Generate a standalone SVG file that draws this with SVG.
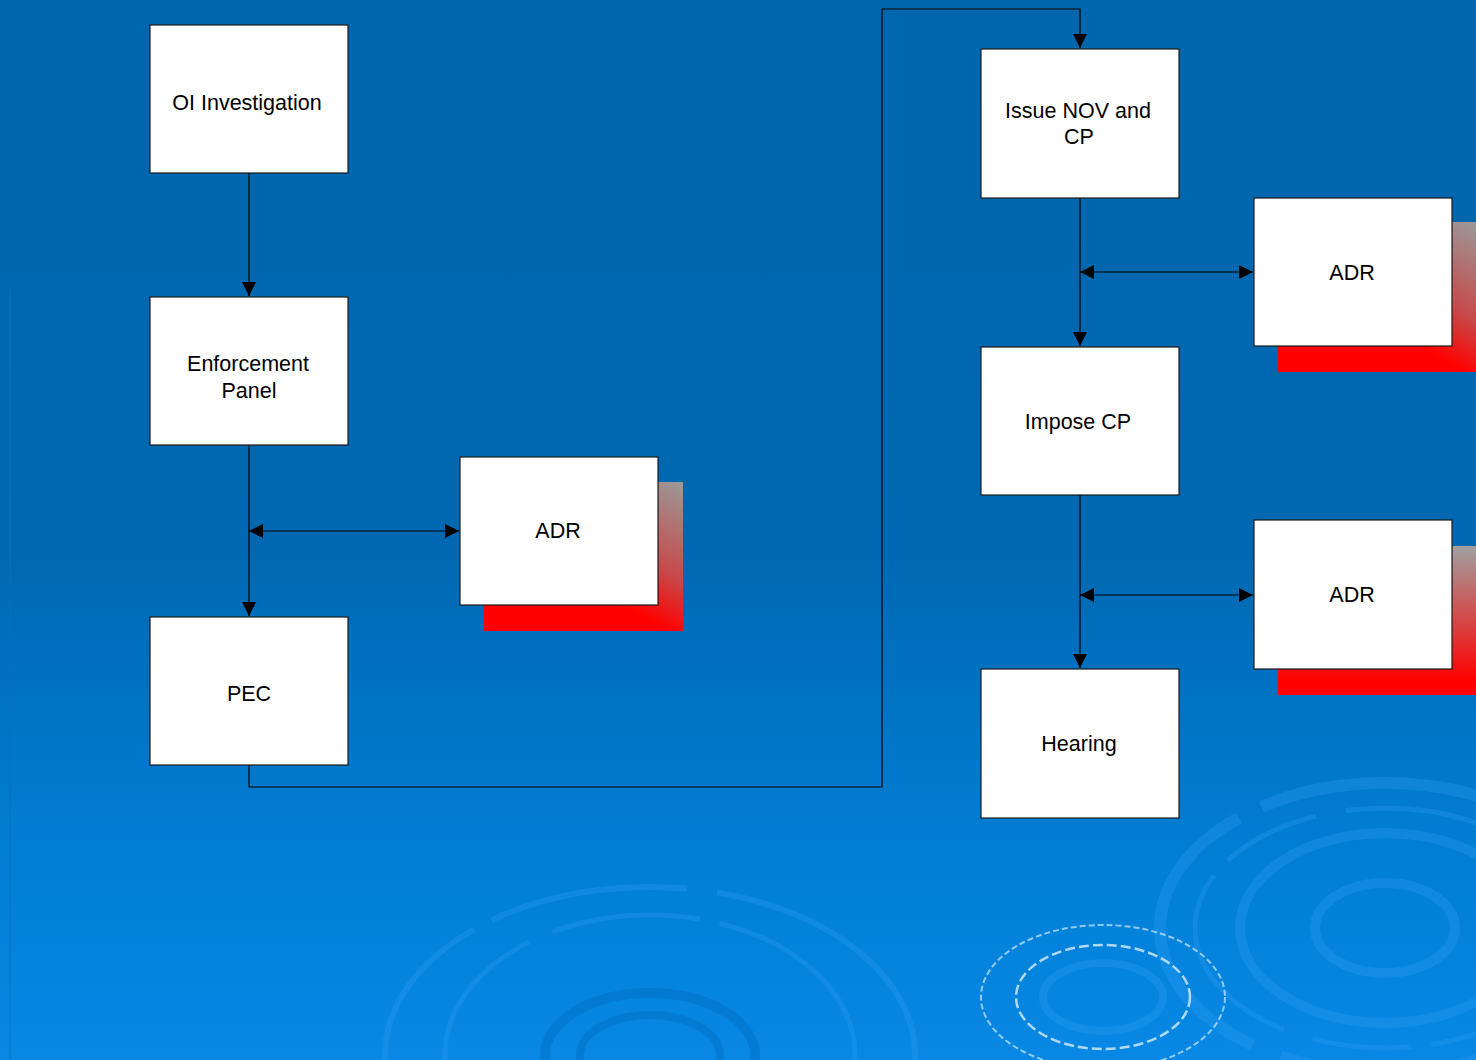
<svg xmlns="http://www.w3.org/2000/svg" width="1476" height="1060" viewBox="0 0 1476 1060">
<style>
.box{fill:#ffffff;stroke:#1a1a1a;stroke-width:1.2}
.lbl{font-family:"Liberation Sans",Arial,sans-serif;font-size:21.5px;fill:#000;text-anchor:middle}
.con{fill:none;stroke:#000;stroke-width:1.2}
.ring{fill:none;stroke:#2a9cf0;opacity:0.35}
</style>
<defs>
<linearGradient id="bg" x1="0" y1="0" x2="0" y2="1">
<stop offset="0" stop-color="#0066ad"/>
<stop offset="0.52" stop-color="#0068b2"/>
<stop offset="0.8" stop-color="#007ed4"/>
<stop offset="1" stop-color="#0888e4"/>
</linearGradient>
<linearGradient id="sh1" x1="1" y1="0" x2="0.3" y2="1">
<stop offset="0" stop-color="#9a9a9a"/>
<stop offset="0.45" stop-color="#c84848"/>
<stop offset="0.7" stop-color="#ff0000"/>
<stop offset="1" stop-color="#ff0000"/>
</linearGradient>
<linearGradient id="sh3" x1="0" y1="0" x2="0" y2="1">
<stop offset="0" stop-color="#a0a0a0"/>
<stop offset="0.9" stop-color="#ff0000"/>
</linearGradient>
<marker id="ah" viewBox="0 0 10 10" refX="10" refY="5" markerWidth="14" markerHeight="14" markerUnits="userSpaceOnUse" orient="auto-start-reverse">
<path d="M0,0 L10,5 L0,10 z" fill="#000"/>
</marker>
</defs>
<rect width="1476" height="1060" fill="url(#bg)"/>
<line x1="10" y1="290" x2="10" y2="1060" stroke="#0a70bd" stroke-width="1.5" opacity="0.6"/>
<g id="ripples">
<ellipse class="ring" cx="650" cy="1055" rx="265" ry="168" stroke-width="6" stroke-dasharray="300 20 200 30"/>
<ellipse class="ring" cx="650" cy="1055" rx="205" ry="140" stroke-width="5" stroke-dasharray="250 25 150 20"/>
<ellipse cx="650" cy="1055" rx="105" ry="62" fill="none" stroke="#0070c4" stroke-width="10" opacity="0.5"/>
<ellipse cx="650" cy="1055" rx="70" ry="40" fill="none" stroke="#0070c4" stroke-width="8" opacity="0.5"/>
<ellipse class="ring" cx="1385" cy="928" rx="225" ry="145" stroke-width="12" stroke-dasharray="400 30 300 25"/>
<ellipse class="ring" cx="1385" cy="928" rx="145" ry="95" stroke-width="10"/>
<ellipse class="ring" cx="1385" cy="928" rx="70" ry="45" stroke-width="10"/>
<ellipse class="ring" cx="1385" cy="928" rx="190" ry="120" stroke-width="5" stroke-dasharray="200 20 100 30"/>
<ellipse cx="1103" cy="997" rx="122" ry="72" fill="none" stroke="#cfe9ff" stroke-width="2" stroke-dasharray="6 3" opacity="0.7"/>
<ellipse cx="1103" cy="997" rx="87" ry="52" fill="none" stroke="#e6f4ff" stroke-width="2.5" stroke-dasharray="10 4" opacity="0.75"/>
<ellipse class="ring" cx="1103" cy="997" rx="60" ry="34" stroke-width="8"/>
</g>
<g id="connectors">
<line class="con" x1="249" y1="173" x2="249" y2="296" marker-end="url(#ah)"/>
<line class="con" x1="249" y1="445" x2="249" y2="616" marker-end="url(#ah)"/>
<line class="con" x1="249" y1="531" x2="459" y2="531" marker-start="url(#ah)" marker-end="url(#ah)"/>
<polyline class="con" points="249,765 249,787 882,787 882,9 1080,9 1080,48" marker-end="url(#ah)"/>
<line class="con" x1="1080" y1="198" x2="1080" y2="346" marker-end="url(#ah)"/>
<line class="con" x1="1080" y1="272" x2="1253" y2="272" marker-start="url(#ah)" marker-end="url(#ah)"/>
<line class="con" x1="1080" y1="495" x2="1080" y2="668" marker-end="url(#ah)"/>
<line class="con" x1="1080" y1="595" x2="1253" y2="595" marker-start="url(#ah)" marker-end="url(#ah)"/>
</g>
<g id="oi">
<rect class="box" x="150" y="25" width="198" height="148"/>
<text class="lbl" x="247" y="110">OI Investigation</text>
</g>
<g id="enforcement">
<rect class="box" x="150" y="297" width="198" height="148"/>
<text class="lbl" x="248" y="371">Enforcement</text>
<text class="lbl" x="249" y="398">Panel</text>
</g>
<g id="pec">
<rect class="box" x="150" y="617" width="198" height="148"/>
<text class="lbl" x="249" y="701">PEC</text>
</g>
<g id="adr1">
<rect x="484" y="482" width="199" height="149" fill="url(#sh1)"/>
<rect class="box" x="460" y="457" width="198" height="148"/>
<text class="lbl" x="558" y="538">ADR</text>
</g>
<g id="issue">
<rect class="box" x="981" y="49" width="198" height="149"/>
<text class="lbl" x="1078" y="118">Issue NOV and</text>
<text class="lbl" x="1079" y="144">CP</text>
</g>
<g id="impose">
<rect class="box" x="981" y="347" width="198" height="148"/>
<text class="lbl" x="1078" y="429">Impose CP</text>
</g>
<g id="hearing">
<rect class="box" x="981" y="669" width="198" height="149"/>
<text class="lbl" x="1079" y="751">Hearing</text>
</g>
<g id="adr2">
<rect x="1278" y="222" width="200" height="150" fill="url(#sh1)"/>
<rect class="box" x="1254" y="198" width="198" height="148"/>
<text class="lbl" x="1352" y="280">ADR</text>
</g>
<g id="adr3">
<rect x="1278" y="546" width="200" height="149" fill="url(#sh3)"/>
<rect class="box" x="1254" y="520" width="198" height="149"/>
<text class="lbl" x="1352" y="602">ADR</text>
</g>
</svg>
